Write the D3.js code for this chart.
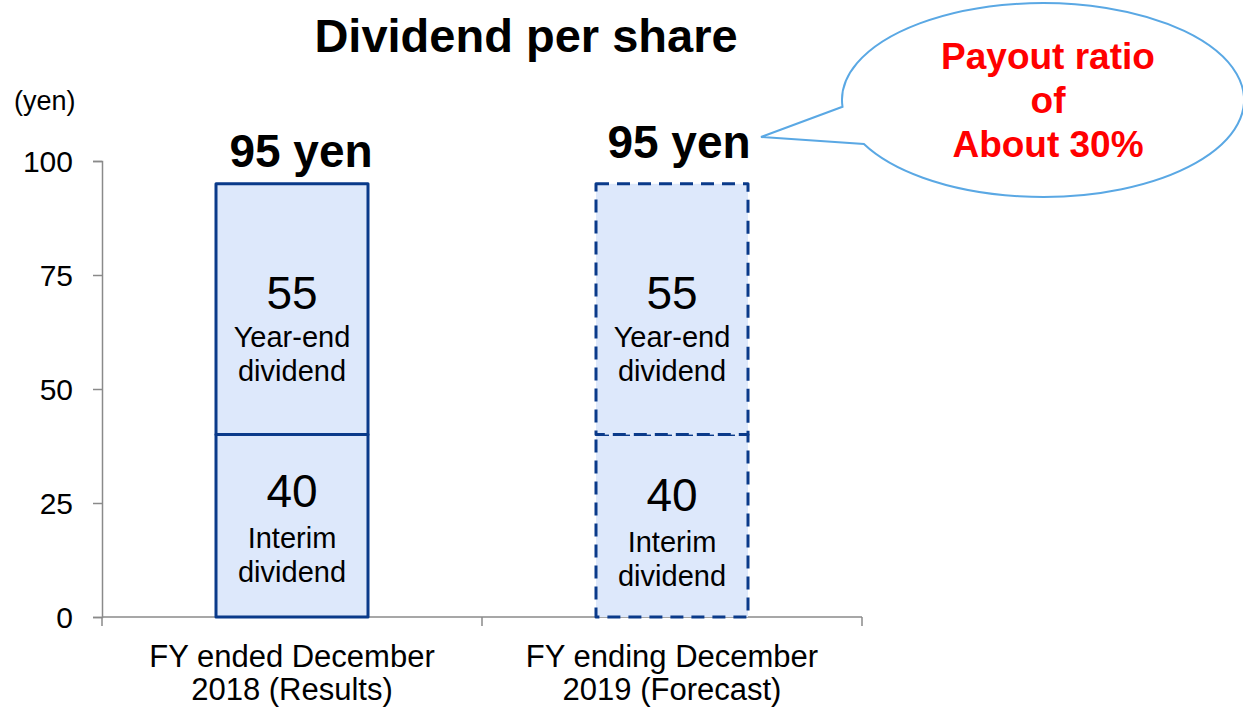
<!DOCTYPE html>
<html><head><meta charset="utf-8">
<script src="https://cdn.jsdelivr.net/npm/d3@7"></script>
<style>html,body{margin:0;padding:0;background:#fff;}svg{display:block;font-family:"Liberation Sans",Arial,sans-serif;}</style>
</head><body>
<svg id="chart" width="1243" height="707"></svg>
<script>
const categories = ["FY2018", "FY2019"];
const categoryLines = [["FY ended December", "2018 (Results)"], ["FY ending December", "2019 (Forecast)"]];
const interimValues = [40, 40];
const yearEndValues = [55, 55];
const totalLabels = ["95 yen", "95 yen"];
const isForecast = [false, true];
const yTicks = [0, 25, 50, 75, 100];
const segmentNames = ["interim", "yearEnd"];
const segmentLabels = {interim: ["Interim", "dividend"], yearEnd: ["Year-end", "dividend"]};
const titleText = "Dividend per share";
const unitText = "(yen)";
const bubbleLines = ["Payout ratio", "of", "About 30%"];

const svg = d3.select("#chart");
const x = d3.scaleBand().domain(categories).range([102, 862]).padding(0);
const y = d3.scaleLinear().domain([0, 100]).range([617, 161]);
const barW = x.bandwidth() * 0.4;
const fill = "#dde8fb", stroke = "#0a3a8a", axisCol = "#8a8a8a";

const rows = categories.map((c, i) => ({cat: c, interim: interimValues[i], yearEnd: yearEndValues[i], i}));
const stack = d3.stack().keys(segmentNames)(rows);

// title
svg.append("text").attr("x", 526).attr("y", 52).attr("text-anchor", "middle")
  .attr("font-size", 47).attr("font-weight", "bold").text(titleText);
svg.append("text").attr("x", 14).attr("y", 110).attr("font-size", 27).text(unitText);

// axes
const yAxis = svg.append("g").attr("transform", "translate(102,0)")
  .call(d3.axisLeft(y).tickValues(yTicks).tickSize(9).tickPadding(20));
yAxis.select(".domain").attr("stroke", axisCol).attr("stroke-width", 1.5);
yAxis.selectAll(".tick line").attr("stroke", axisCol).attr("stroke-width", 1.5);
yAxis.selectAll(".tick text").attr("font-size", 30).attr("fill", "#000").attr("font-family", "Liberation Sans, Arial, sans-serif").attr("dy", "0.36em");

const xAxisG = svg.append("g").attr("transform", "translate(0,617)");
xAxisG.append("line").attr("x1", x.range()[0]).attr("x2", x.range()[1]).attr("y1", 0).attr("y2", 0)
  .attr("stroke", axisCol).attr("stroke-width", 1.5);
const xTickPos = categories.map(c => x(c)).concat([x(categories[categories.length-1]) + x.bandwidth()]);
xAxisG.selectAll("line.t").data(xTickPos).enter().append("line").attr("class", "t")
  .attr("x1", d => d).attr("x2", d => d).attr("y1", 0).attr("y2", 9).attr("stroke", axisCol).attr("stroke-width", 1.5);

// bars
stack.forEach(layer => {
  svg.append("g").selectAll("rect").data(layer).enter().append("rect")
    .attr("x", d => x(d.data.cat) + (x.bandwidth() - barW) / 2)
    .attr("width", barW)
    .attr("y", d => y(d[1]))
    .attr("height", d => y(d[0]) - y(d[1]))
    .attr("fill", fill).attr("stroke", stroke).attr("stroke-width", 3)
    .attr("stroke-linejoin", "round")
    .attr("stroke-dasharray", d => isForecast[d.data.i] ? "13,8" : null);
});

// segment labels
stack.forEach(layer => {
  const key = layer.key;
  layer.forEach(d => {
    const cx = x(d.data.cat) + x.bandwidth() / 2;
    const off = isForecast[d.data.i] && key === "interim" ? 4 : 0;
    const top = y(d[1]);
    const base = key === "yearEnd" ? top + 125 : top + 72;
    svg.append("text").attr("x", cx).attr("y", base + off).attr("text-anchor", "middle")
      .attr("font-size", 46).text(d.data[key]);
    segmentLabels[key].forEach((t, j) => {
      svg.append("text").attr("x", cx).attr("y", base + off + (key === "yearEnd" ? 38 : 41) + j * 34)
        .attr("text-anchor", "middle").attr("font-size", 29).text(t);
    });
  });
});

// total labels
const totalsOffset = [17, 26];
rows.forEach((r, i) => {
  svg.append("text").attr("x", x(r.cat) + x.bandwidth() / 2 + (i === 0 ? 9 : 7))
    .attr("y", y(r.interim + r.yearEnd) - totalsOffset[i])
    .attr("text-anchor", "middle").attr("font-size", 46).attr("font-weight", "bold").text(totalLabels[i]);
});

// x labels
categoryLines.forEach((lines, i) => {
  lines.forEach((t, j) => {
    svg.append("text").attr("x", x(categories[i]) + x.bandwidth() / 2).attr("y", 667 + j * 33)
      .attr("text-anchor", "middle").attr("font-size", 31).text(t);
  });
});

// speech bubble
const ecx = 1043, ecy = 100, rx = 201, ry = 97;
const a1 = 176 * Math.PI / 180, a2 = 153 * Math.PI / 180;
const p1 = [ecx + rx * Math.cos(a1), ecy + ry * Math.sin(a1)];
const p2 = [ecx + rx * Math.cos(a2), ecy + ry * Math.sin(a2)];
const tip = [761, 137];
svg.append("path")
  .attr("d", `M${p1[0]},${p1[1]} A${rx},${ry} 0 1 1 ${p2[0]},${p2[1]} L${tip[0]},${tip[1]} Z`)
  .attr("fill", "#fff").attr("stroke", "#5aa8e4").attr("stroke-width", 2);
bubbleLines.forEach((t, j) => {
  svg.append("text").attr("x", 1048).attr("y", 69 + j * 44).attr("text-anchor", "middle")
    .attr("font-size", 37).attr("font-weight", "bold").attr("fill", "#ff0000").text(t);
});
</script>
</body></html>
